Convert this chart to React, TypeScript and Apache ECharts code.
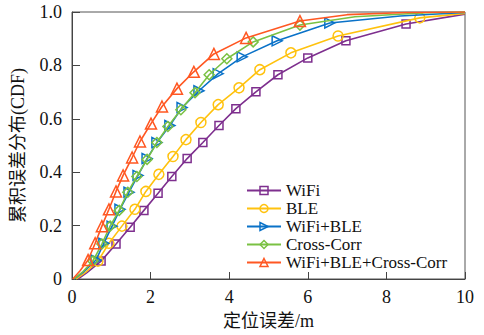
import React, { useEffect, useRef } from "react";
import * as echarts from "echarts";

const seriesNames = ["WiFi", "BLE", "WiFi+BLE", "Cross-Corr", "WiFi+BLE+Cross-Corr"];
const xTicks = [0, 2, 4, 6, 8, 10];
const yTicks = [0, 0.2, 0.4, 0.6, 0.8, 1.0];

// WiFi
const wifiX = [0.15, 0.38, 0.74, 1.12, 1.48, 1.83, 2.19, 2.54, 2.93, 3.33, 3.74, 4.17, 4.68, 5.24, 6.0, 6.97, 8.5, 10];
const wifiY = [0, 0.024, 0.067, 0.131, 0.194, 0.257, 0.321, 0.384, 0.451, 0.511, 0.575, 0.638, 0.701, 0.765, 0.828, 0.892, 0.955, 0.992];
// BLE
const bleX = [0.1, 0.35, 0.66, 0.94, 1.27, 1.6, 1.88, 2.21, 2.57, 2.9, 3.28, 3.72, 4.25, 4.78, 5.57, 6.77, 8.85, 10];
const bleY = [0, 0.026, 0.067, 0.134, 0.198, 0.261, 0.328, 0.392, 0.459, 0.522, 0.586, 0.653, 0.716, 0.784, 0.847, 0.91, 0.978, 0.995];
// WiFi+BLE
const wbX = [0.05, 0.3, 0.61, 0.81, 1.02, 1.22, 1.45, 1.68, 1.91, 2.16, 2.49, 2.8, 3.23, 3.72, 4.33, 5.22, 6.56, 8.35, 10];
const wbY = [0, 0.027, 0.071, 0.134, 0.198, 0.261, 0.325, 0.388, 0.451, 0.511, 0.575, 0.642, 0.705, 0.769, 0.832, 0.892, 0.959, 0.985, 0.998];
// Cross-Corr
const ccX = [0.05, 0.28, 0.53, 0.76, 0.97, 1.2, 1.42, 1.65, 1.91, 2.16, 2.44, 2.77, 3.13, 3.49, 3.94, 4.61, 5.8, 7.2, 9.0, 10];
const ccY = [0, 0.028, 0.067, 0.131, 0.198, 0.257, 0.325, 0.384, 0.448, 0.511, 0.571, 0.634, 0.698, 0.765, 0.825, 0.888, 0.951, 0.982, 0.997, 1.0];
// WiFi+BLE+Cross-Corr
const allX = [0.02, 0.2, 0.41, 0.59, 0.76, 0.94, 1.12, 1.3, 1.53, 1.73, 2.01, 2.29, 2.67, 3.1, 3.61, 4.43, 5.8, 7.0, 8.5, 10];
const allY = [0, 0.03, 0.071, 0.134, 0.198, 0.261, 0.328, 0.388, 0.455, 0.515, 0.582, 0.646, 0.713, 0.776, 0.843, 0.903, 0.966, 0.99, 0.998, 1.0];

// first / last marked index of each curve
const markRanges = [
  [2, 16],
  [2, 16],
  [2, 16],
  [2, 16],
  [2, 16],
];

const colors = ["#7E2F8E", "#FFC20E", "#0A72C8", "#7AC143", "#FF5722"];
const symbols = ["rect", "circle", "triangle", "diamond", "triangle"];
const symbolRotates = [0, 0, -90, 0, 0];
const symbolSizes = [8, 10, 10, 10, 11];

const serif = "'Liberation Serif', 'Times New Roman', 'Noto Sans CJK SC', serif";

export default function App() {
  const ref = useRef<HTMLDivElement>(null);
  useEffect(() => {
    if (!ref.current) return;
    const chart = echarts.init(ref.current, undefined, { renderer: "svg" });
    const xs = [wifiX, bleX, wbX, ccX, allX];
    const ys = [wifiY, bleY, wbY, ccY, allY];
    const series = seriesNames.map((name, k) => ({
      name,
      type: "line",
      data: xs[k].map((x, i) => {
        const marked = i >= markRanges[k][0] && i <= markRanges[k][1];
        return marked ? { value: [x, ys[k][i]] } : { value: [x, ys[k][i]], symbol: "none" };
      }),
      symbol: symbols[k],
      symbolSize: symbolSizes[k],
      symbolRotate: symbolRotates[k],
      showAllSymbol: true,
      lineStyle: { color: colors[k], width: 1.6 },
      itemStyle: { color: "rgba(255,255,255,0)", borderColor: colors[k], borderWidth: 1.5 },
      emphasis: { disabled: true },
      z: 2 + k,
    }));
    chart.setOption({
      animation: false,
      backgroundColor: "#fff",
      grid: {
        left: 72,
        right: 19,
        top: 12,
        bottom: 55,
        show: true,
        borderColor: "#555",
        borderWidth: 1,
      },
      legend: {
        orient: "vertical",
        left: 241,
        top: 177,
        itemWidth: 34,
        itemHeight: 10,
        itemGap: 1,
        itemStyle: { borderWidth: 1.5 },
        textStyle: { fontFamily: serif, fontSize: 17, color: "#111", lineHeight: 17 },
        data: seriesNames,
      },
      xAxis: {
        type: "value",
        min: 0,
        max: 10,
        interval: 2,
        name: "定位误差/m",
        nameLocation: "middle",
        nameGap: 33,
        nameTextStyle: { fontFamily: serif, fontSize: 18, color: "#111" },
        axisLine: { show: true, lineStyle: { color: "#444" } },
        axisTick: { show: true, inside: true, length: 7, lineStyle: { color: "#444" } },
        axisLabel: {
          fontFamily: serif,
          fontSize: 18,
          color: "#111",
          margin: 9,
          formatter: (v: number) => (xTicks.includes(v) ? String(v) : ""),
        },
        splitLine: { show: false },
      },
      yAxis: {
        type: "value",
        min: 0,
        max: 1,
        interval: 0.2,
        name: "累积误差分布(CDF)",
        nameLocation: "middle",
        nameGap: 45,
        nameTextStyle: { fontFamily: serif, fontSize: 18, color: "#111" },
        axisLine: { show: true, lineStyle: { color: "#444" } },
        axisTick: { show: true, inside: true, length: 8, lineStyle: { color: "#444" } },
        axisLabel: {
          fontFamily: serif,
          fontSize: 18,
          color: "#111",
          margin: 10,
          formatter: (v: number) => {
            const t = yTicks.find((y) => Math.abs(y - v) < 1e-6);
            if (t === undefined) return "";
            return t === 0 ? "0" : t.toFixed(1);
          },
        },
        splitLine: { show: false },
      },
      series,
    });
    return () => chart.dispose();
  }, []);
  return <div ref={ref} style={{ width: 484, height: 335, position: "absolute", left: 0, top: 0 }} />;
}
